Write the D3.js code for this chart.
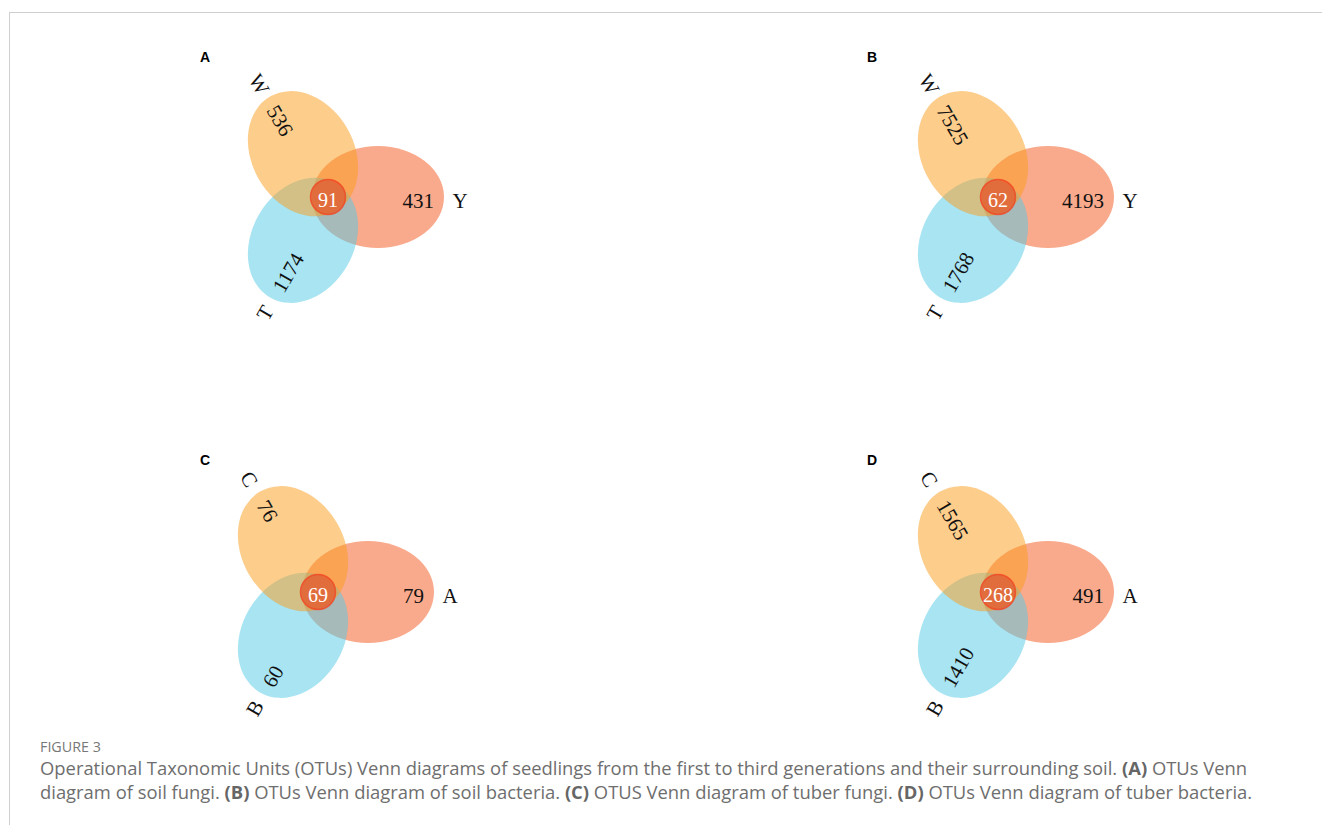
<!DOCTYPE html>
<html>
<head>
<meta charset="utf-8">
<script src="https://cdn.jsdelivr.net/npm/d3@7"></script>
<style>
  body { margin: 0; background: #fff; }
  svg { display: block; }
</style>
</head>
<body>
<svg id="chart" width="1322" height="825"></svg>
<script>
// Panel data (set order: top-left, right, bottom-left)
const panelLetters = ["A", "B", "C", "D"];
const setNames = [["W", "Y", "T"], ["W", "Y", "T"], ["C", "A", "B"], ["C", "A", "B"]];
const uniqueCounts = [[536, 431, 1174], [7525, 4193, 1768], [76, 79, 60], [1565, 491, 1410]];
const sharedCounts = [91, 62, 69, 268];

const captionTitle = "FIGURE 3";
const captionLines = [
  [["Operational Taxonomic Units (OTUs) Venn diagrams of seedlings from the first to third generations and their surrounding soil. ", false], ["(A)", true], [" OTUs Venn", false]],
  [["diagram of soil fungi. ", false], ["(B)", true], [" OTUs Venn diagram of soil bacteria. ", false], ["(C)", true], [" OTUS Venn diagram of tuber fungi. ", false], ["(D)", true], [" OTUs Venn diagram of tuber bacteria.", false]]
];

const svg = d3.select("#chart");

// frame lines
svg.append("line").attr("x1", 9.5).attr("x2", 1322).attr("y1", 12.5).attr("y2", 12.5)
  .attr("stroke", "#cfcfcf").attr("stroke-width", 1);
svg.append("line").attr("x1", 9.5).attr("x2", 9.5).attr("y1", 12).attr("y2", 825)
  .attr("stroke", "#cfcfcf").attr("stroke-width", 1);

// panel centres (centre of the shared circle)
const panelX = d3.scaleOrdinal().domain(panelLetters).range([328, 998, 318, 998]);
const panelY = d3.scaleOrdinal().domain(panelLetters).range([197, 197, 592, 592]);

// each set sits on a ray from the panel centre
const setAngle = d3.scaleOrdinal().domain([0, 1, 2]).range([-120, 0, 120]);
const setColor = d3.scaleOrdinal().domain([0, 1, 2]).range(["#fb9b19", "#f35519", "#51c9e5"]);
const radial = d3.scaleLinear().domain([0, 1]).range([0, 1]); // px along ray

const drawOrder = [1, 2, 0]; // red, then blue, then orange on top

panelLetters.forEach((letter, p) => {
  const cx = panelX(letter), cy = panelY(letter);
  const g = svg.append("g").attr("transform", `translate(${cx},${cy})`);

  svg.append("text")
    .attr("x", p % 2 === 0 ? 200 : 867)
    .attr("y", p < 2 ? 62 : 465)
    .attr("font-family", "Liberation Sans, Arial, sans-serif")
    .attr("font-weight", "bold")
    .attr("font-size", "14px")
    .attr("fill", "#000")
    .text(letter);

  const pos = (i, r) => {
    const a = setAngle(i) * Math.PI / 180;
    return [radial(r) * Math.cos(a), radial(r) * Math.sin(a)];
  };

  // ellipses
  g.selectAll("ellipse.set")
    .data(drawOrder)
    .join("ellipse")
    .attr("class", "set")
    .attr("transform", i => {
      const [x, y] = pos(i, 50);
      return `translate(${x},${y}) rotate(${setAngle(i)})`;
    })
    .attr("rx", 66)
    .attr("ry", 51)
    .attr("fill", i => setColor(i))
    .attr("fill-opacity", 0.5);

  // shared circle
  g.append("circle")
    .attr("r", 17.5)
    .attr("fill", "#e8512a")
    .attr("fill-opacity", 0.7)
    .attr("stroke", "#f04a26")
    .attr("stroke-width", 1.5)
    .attr("stroke-opacity", 0.85);

  g.append("text")
    .attr("y", 1)
    .attr("dy", "0.45em")
    .attr("text-anchor", "middle")
    .attr("font-family", "Liberation Serif, Times New Roman, serif")
    .attr("font-size", "20px")
    .attr("fill", "#fff")
    .text(sharedCounts[p]);

  // unique counts: outer edge of the text at a fixed distance
  [0, 1, 2].forEach(i => {
    const [x, y] = pos(i, 106);
    const rot = i === 1 ? 0 : setAngle(i) + 180;
    g.append("text")
      .attr("transform", `translate(${x},${y}) rotate(${rot})`)
      .attr("dy", "0.5em")
      .attr("text-anchor", i === 1 ? "end" : "start")
      .attr("font-family", "Liberation Serif, Times New Roman, serif")
      .attr("font-size", "21px")
      .attr("fill", "#111")
      .text(uniqueCounts[p][i]);

    const [lx, ly] = pos(i, 132);
    g.append("text")
      .attr("transform", `translate(${lx},${ly}) rotate(${rot})`)
      .attr("dy", "0.5em")
      .attr("text-anchor", "middle")
      .attr("font-family", "Liberation Serif, Times New Roman, serif")
      .attr("font-size", "21px")
      .attr("fill", "#111")
      .text(setNames[p][i]);
  });
});

// caption
svg.append("text")
  .attr("x", 40).attr("y", 752)
  .attr("font-family", "Open Sans, sans-serif")
  .attr("font-size", "14.3px")
  .attr("fill", "#777")
  .text(captionTitle);

captionLines.forEach((parts, li) => {
  const t = svg.append("text")
    .attr("x", 40).attr("y", 775 + li * 23.5)
    .attr("font-family", "Open Sans, sans-serif")
    .attr("font-size", "18.4px")
    .attr("fill", "#6e6e6e");
  parts.forEach(([s, bold]) => {
    t.append("tspan")
      .attr("font-weight", bold ? "bold" : "normal")
      .attr("fill", bold ? "#666" : "#6e6e6e")
      .text(s);
  });
});
</script>
</body>
</html>
